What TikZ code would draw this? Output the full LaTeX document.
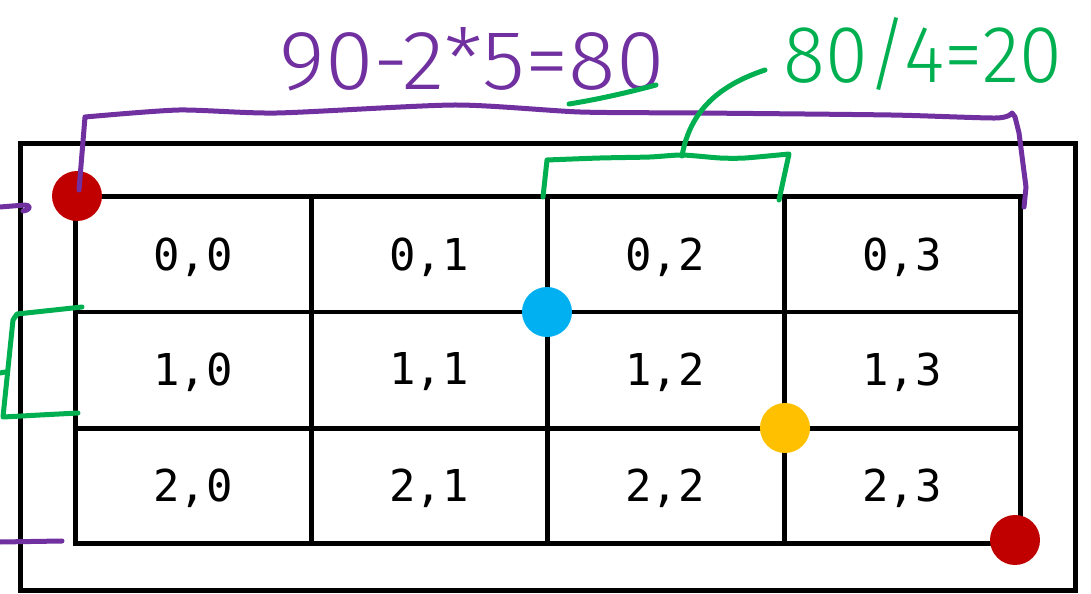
\documentclass[tikz,border=0pt]{standalone}
\usepackage{fontspec}
\setmainfont{Fira Sans Light}
\newfontfamily\cellfont{DejaVu Sans Mono}
\definecolor{mred}{HTML}{C00000}
\definecolor{mblue}{HTML}{00B0F0}
\definecolor{myellow}{HTML}{FFC000}
\definecolor{mgreen}{HTML}{00B050}
\definecolor{mpurple}{HTML}{7030A0}
\tikzset{
  frameline/.style={line width=0.1cm, black},
  gridline/.style={line width=0.1cm, black},
  celllabel/.style={font=\cellfont\fontsize{25}{30}\selectfont, inner sep=0pt},
  dotnode/.style={circle, minimum size=1cm, inner sep=0pt, draw=none},
  purpink/.style={line width=0.1cm, mpurple, line cap=round, line join=round},
  greenink/.style={line width=0.1cm, mgreen, line cap=round, line join=round},
  handtext/.style={inner sep=0pt},
}
\begin{document}
\begin{tikzpicture}[x=0.02cm, y=-0.02cm]
\useasboundingbox (0,0) rectangle (1091,594);
% outer frame
\draw[frameline] (20,144) rectangle (1075,590);
% grid
\draw[gridline] (75,197) rectangle (1020,543);
\draw[gridline] (75,312) -- (1020,312);
\draw[gridline] (75,428) -- (1020,428);
\draw[gridline] (311,197) -- (311,543);
\draw[gridline] (547,197) -- (547,543);
\draw[gridline] (784,197) -- (784,543);
% labels
\node[celllabel] (c00) at (193,257) {0,0};
\node[celllabel] (c01) at (429,257) {0,1};
\node[celllabel] (c02) at (665,257) {0,2};
\node[celllabel] (c03) at (902,257) {0,3};
\node[celllabel] (c10) at (193,372) {1,0};
\node[celllabel] (c11) at (429,372) {1,1};
\node[celllabel] (c12) at (665,372) {1,2};
\node[celllabel] (c13) at (902,372) {1,3};
\node[celllabel] (c20) at (193,488) {2,0};
\node[celllabel] (c21) at (429,488) {2,1};
\node[celllabel] (c22) at (665,488) {2,2};
\node[celllabel] (c23) at (902,488) {2,3};
% dots
\node[dotnode, fill=mred] (dtl) at (77,196) {};
\node[dotnode, fill=mblue] (dbl) at (547,312) {};
\node[dotnode, fill=myellow] (dyl) at (785,428) {};
\node[dotnode, fill=mred] (dbr) at (1015,540) {};
% handwritten texts
\node[handtext, text=mpurple] (ptext) at (472,59) {\resizebox{7.7cm}{1.24cm}{90-2*5=80}};
\node[handtext, text=mgreen] (gtext) at (923,54) {\resizebox{5.58cm}{1.3cm}{80/4=20}};
% purple bracket over the whole width
\coordinate (pa) at (79,190);
\coordinate (pb) at (1024,207);
\draw[purpink] (pa) -- (85,117) -- plot[smooth, tension=0.4] coordinates {(85,117) (179,110) (277,113) (455,105) (580,112) (700,113) (891,115) (996,118) (1012,113)} -- (1015,117) -- (1019,133) -- (1026,187) -- (pb);
% green bracket over one column
\coordinate (ga) at (543,197);
\coordinate (gb) at (779,200);
\coordinate (gm) at (682,156);
\coordinate (gt) at (765,70);
\draw[greenink] (ga) -- (547,160) -- plot[smooth, tension=0.4] coordinates {(547,160) (600,158) (650,157) (682,155) (720,158) (745,158) (789,154)} -- (gb);
\draw[greenink] (gm) .. controls (690,110) and (720,85) .. (gt);
% green underline of 80
\coordinate (ua) at (569,104);
\coordinate (ub) at (656,85);
\draw[greenink] (ua) .. controls (600,99) and (630,92) .. (ub);
% left marks
\coordinate (la) at (0,207);
\coordinate (lb) at (23,211);
\draw[purpink] (la) -- (25,205) .. controls (32,206) and (30,210) .. (lb);
\coordinate (lga) at (82,307);
\coordinate (lgb) at (78,413);
\draw[greenink] (lga) -- (17,314) -- (13,320) -- (3,417) -- (40,415) -- (lgb);
\coordinate (lta) at (0,373);
\coordinate (ltb) at (5,372);
\draw[greenink] (lta) -- (ltb);
\coordinate (lpa) at (0,542);
\coordinate (lpb) at (62,541);
\draw[purpink] (lpa) -- (lpb);
\end{tikzpicture}
\end{document}
